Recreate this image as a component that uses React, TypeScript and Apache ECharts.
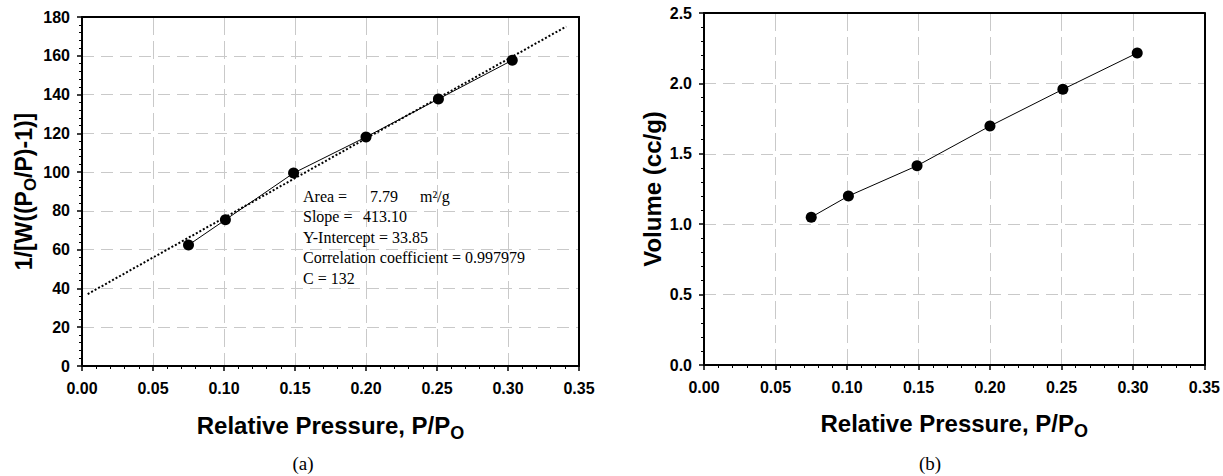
import React, { useEffect, useRef } from "react";
import * as echarts from "echarts";

// ---- data ----
const pressureA = [0.075, 0.101, 0.149, 0.2, 0.251, 0.303];
const betValues = [62.4, 75.4, 99.5, 118.1, 137.7, 157.7];
const fitX = [0.004, 0.341];
const fitY = [37.1, 175.1];

const pressureB = [0.075, 0.101, 0.149, 0.2, 0.251, 0.303];
const volumeValues = [1.05, 1.2, 1.415, 1.697, 1.958, 2.216];

const annotationLines = [
  "Y-Intercept = 33.85",
  "Correlation coefficient = 0.997979",
  "C = 132",
];

const SANS = "'Liberation Sans', Arial, sans-serif";
const SERIF = "'Liberation Serif', 'Times New Roman', serif";

const gridColor = "#c9c9c9";

function xAxisCfg(gridIndex: number, gap: number) {
  return {
    type: "value",
    gridIndex,
    min: 0,
    max: 0.35,
    interval: 0.05,
    name: "{m|Relative Pressure, P/P}{s|O}",
    nameLocation: "middle",
    nameGap: gap,
    nameTextStyle: {
      rich: {
        m: { fontFamily: SANS, fontWeight: "bold", fontSize: 24, color: "#000", lineHeight: 24, verticalAlign: "top" },
        s: { fontFamily: SANS, fontWeight: "bold", fontSize: 18, color: "#000", lineHeight: 18, verticalAlign: "top", padding: [11, 0, 0, 0] },
      },
    },
    axisLine: { show: true, onZero: false, lineStyle: { color: "#000", width: 2 } },
    axisTick: { show: true, inside: false, length: 5, lineStyle: { color: "#000", width: 1.5 } },
    minorTick: { show: true, splitNumber: 5, length: 3, lineStyle: { color: "#000", width: 1 } },
    axisLabel: {
      margin: 14,
      fontFamily: SANS,
      fontWeight: "bold",
      fontSize: 16,
      color: "#000",
      formatter: (v: number) => v.toFixed(2),
    },
    splitLine: { show: true, lineStyle: { color: gridColor, width: 1, type: [18, 6] } },
    z: 2,
  };
}

function yAxisCfg(gridIndex: number, max: number, interval: number, digits: number, name: string, rich: any, gap: number) {
  return {
    type: "value",
    gridIndex,
    min: 0,
    max,
    interval,
    name,
    nameLocation: "middle",
    nameGap: gap,
    nameRotate: 90,
    nameTextStyle: { rich },
    axisLine: { show: true, onZero: false, lineStyle: { color: "#000", width: 2 } },
    axisTick: { show: true, inside: false, length: 5, lineStyle: { color: "#000", width: 1.5 } },
    minorTick: { show: true, splitNumber: 5, length: 3, lineStyle: { color: "#000", width: 1 } },
    axisLabel: {
      margin: 12,
      fontFamily: SANS,
      fontWeight: "bold",
      fontSize: 16,
      color: "#000",
      formatter: (v: number) => v.toFixed(digits),
    },
    splitLine: { show: true, lineStyle: { color: gridColor, width: 1, type: [12, 7] } },
    z: 2,
  };
}

// frame-only axes on the opposite sides (top / right)
function frameAxis(gridIndex: number, position: string, min: number, max: number) {
  return {
    type: "value",
    gridIndex,
    position,
    min,
    max,
    axisLine: { show: true, onZero: false, lineStyle: { color: "#000", width: 2 } },
    axisTick: { show: false },
    axisLabel: { show: false },
    splitLine: { show: false },
    z: 5,
  };
}

export default function App() {
  const ref = useRef<HTMLDivElement>(null);

  useEffect(() => {
    if (!ref.current) return;
    const chart = echarts.init(ref.current, null, { renderer: "svg" });

    const richA = {
      m: { fontFamily: SANS, fontWeight: "bold", fontSize: 23, color: "#000", lineHeight: 23, verticalAlign: "top" },
      s: { fontFamily: SANS, fontWeight: "bold", fontSize: 17, color: "#000", lineHeight: 17, verticalAlign: "top", padding: [10, 0, 0, 0] },
    };
    const richB = {
      m: { fontFamily: SANS, fontWeight: "bold", fontSize: 24, color: "#000", lineHeight: 24 },
    };

    const annX = 303;
    const annTop = 197;
    const annStep = 20.5;
    const annFont = `16px ${SERIF}`;

    const option: any = {
      animation: false,
      backgroundColor: "#fff",
      grid: [
        { left: 82, top: 17, width: 497, height: 349 },
        { left: 704, top: 13, width: 502, height: 352 },
      ],
      xAxis: [xAxisCfg(0, 47), xAxisCfg(1, 46), frameAxis(0, "top", 0, 0.35), frameAxis(1, "top", 0, 0.35)],
      yAxis: [
        yAxisCfg(0, 180, 20, 0, "{m|1/[W((P}{s|O}{m|/P)-1)]}", richA, 41),
        yAxisCfg(1, 2.5, 0.5, 1, "{m|Volume (cc/g)}", richB, 40),
        frameAxis(0, "right", 0, 180),
        frameAxis(1, "right", 0, 2.5),
      ],
      series: [
        {
          type: "line",
          xAxisIndex: 0,
          yAxisIndex: 0,
          data: pressureA.map((x, i) => [x, betValues[i]]),
          symbol: "circle",
          symbolSize: 11,
          itemStyle: { color: "#000" },
          lineStyle: { color: "#000", width: 1 },
          z: 3,
        },
        {
          type: "line",
          xAxisIndex: 0,
          yAxisIndex: 0,
          data: fitX.map((x, i) => [x, fitY[i]]),
          showSymbol: false,
          symbol: "none",
          lineStyle: { color: "#000", width: 2, type: [2, 2] },
          z: 4,
        },
        {
          type: "line",
          xAxisIndex: 1,
          yAxisIndex: 1,
          data: pressureB.map((x, i) => [x, volumeValues[i]]),
          symbol: "circle",
          symbolSize: 11,
          itemStyle: { color: "#000" },
          lineStyle: { color: "#000", width: 1 },
          z: 3,
        },
      ],
      graphic: [
        { type: "text", left: annX, top: annTop - 9, z: 10, style: { text: "Area =", font: annFont, fill: "#000" } },
        { type: "text", left: 370, top: annTop - 9, z: 10, style: { text: "7.79", font: annFont, fill: "#000" } },
        { type: "text", left: 420, top: annTop - 9, z: 10, style: { text: "m²/g", font: annFont, fill: "#000" } },
        { type: "text", left: annX, top: annTop + annStep - 9, z: 10, style: { text: "Slope =", font: annFont, fill: "#000" } },
        { type: "text", left: 363, top: annTop + annStep - 9, z: 10, style: { text: "413.10", font: annFont, fill: "#000" } },
        ...annotationLines.map((t, i) => ({
          type: "text",
          left: annX,
          top: annTop + annStep * (i + 2) - 9,
          z: 10,
          style: { text: t, font: annFont, fill: "#000" },
        })),
        { type: "text", x: 303, y: 463, z: 10, style: { text: "(a)", font: `19px ${SERIF}`, fill: "#000", textAlign: "center", textVerticalAlign: "middle" } },
        { type: "text", x: 930, y: 463, z: 10, style: { text: "(b)", font: `19px ${SERIF}`, fill: "#000", textAlign: "center", textVerticalAlign: "middle" } },
      ],
    };

    chart.setOption(option);
    return () => chart.dispose();
  }, []);

  return (
    <div
      ref={ref}
      style={{ position: "fixed", left: 0, top: 0, width: 1223, height: 476, background: "#fff" }}
    />
  );
}
